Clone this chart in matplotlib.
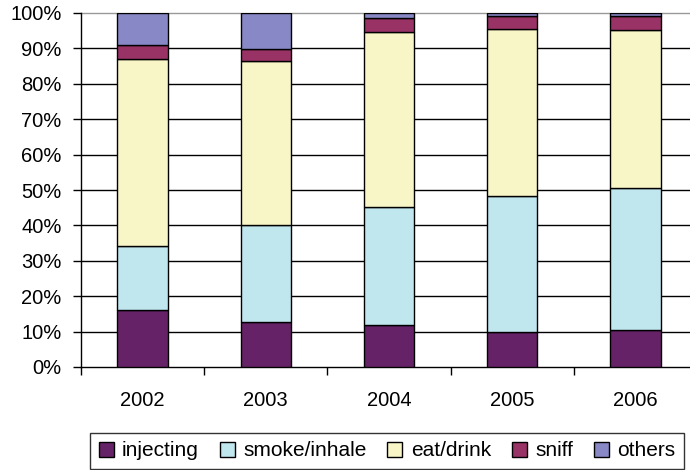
import numpy as np
import matplotlib.pyplot as plt
from matplotlib.patches import Patch

years = ['2002', '2003', '2004', '2005', '2006']
injecting = [16.0, 12.7, 11.8, 9.9, 10.4]
smoke_inhale = [18.2, 27.3, 33.5, 38.4, 40.3]
eat_drink = [52.8, 46.5, 49.4, 47.3, 44.4]
sniff = [4.0, 3.3, 3.9, 3.5, 4.0]
others = [9.0, 10.2, 1.4, 0.9, 0.9]

labels = ['injecting', 'smoke/inhale', 'eat/drink', 'sniff', 'others']
colors = ['#662266', '#C0E6EE', '#F8F6C6', '#993366', '#8888C6']

plt.rcParams['font.family'] = ['Liberation Sans', 'DejaVu Sans']

fig = plt.figure(figsize=(6.9, 4.7), dpi=100)
ax = fig.add_axes([81 / 690, 103 / 470, 616 / 690, 354 / 470])

x = np.arange(len(years))
bottom = np.zeros(len(years))
for vals, col in zip([injecting, smoke_inhale, eat_drink, sniff, others], colors):
    ax.bar(x, vals, width=0.41, bottom=bottom, color=col, edgecolor='black',
           linewidth=1.0, zorder=3)
    bottom += np.array(vals)

ax.set_xlim(-0.5, len(years) - 0.5)
ax.set_ylim(0, 100)

# horizontal gridlines, top one lighter
for yv in range(10, 100, 10):
    ax.axhline(yv, color='black', linewidth=1.0, zorder=1)
ax.axhline(100, color='#999999', linewidth=1.0, zorder=1, clip_on=False)

ax.set_yticks(range(0, 101, 10))
ax.set_yticklabels([f'{v}%' for v in range(0, 101, 10)])
ax.tick_params(axis='y', direction='out', length=6, width=1, labelsize=14.5, pad=8)

# category boundaries as ticks, labels centred between them
ax.set_xticks(np.arange(-0.5, len(years), 1.0))
ax.set_xticklabels([])
ax.set_xticks(x, minor=True)
ax.set_xticklabels(years, minor=True)
ax.tick_params(axis='x', which='major', direction='out', length=6, width=1)
ax.tick_params(axis='x', which='minor', length=0, labelsize=14.5, pad=17)

for s in ['top', 'right']:
    ax.spines[s].set_visible(False)
ax.spines['left'].set_linewidth(1)
ax.spines['bottom'].set_linewidth(1)

handles = [Patch(facecolor=c, edgecolor='black', linewidth=1) for c in colors]
leg = fig.legend(handles, labels, loc='center', bbox_to_anchor=(387 / 690, 1 - 451 / 470),
                 ncol=5, fontsize=15, frameon=True, fancybox=False,
                 handlelength=0.72, handleheight=0.72, handletextpad=0.4,
                 columnspacing=1.0, borderpad=0.4, borderaxespad=0)
leg.get_frame().set_edgecolor('black')
leg.get_frame().set_linewidth(1)

fig.savefig('out.png', dpi=100)
